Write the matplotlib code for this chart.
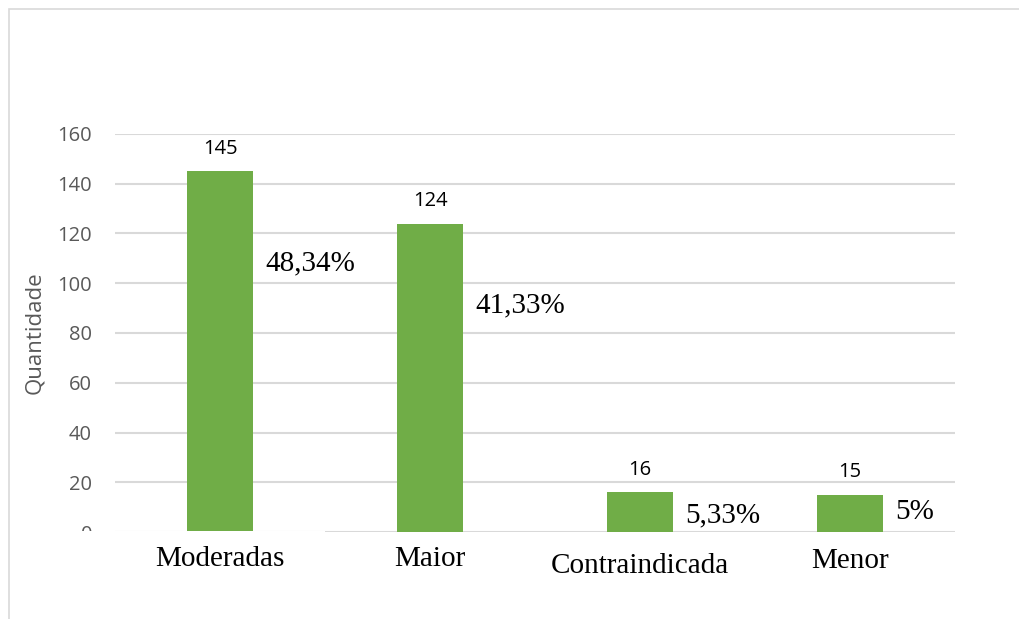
import matplotlib
matplotlib.use("Agg")
import matplotlib.pyplot as plt
from matplotlib.patches import Rectangle
from matplotlib.transforms import ScaledTranslation

categories = ["Moderadas", "Maior", "Contraindicada", "Menor"]
counts = [145, 124, 16, 15]
percent_labels = ["48,34%", "41,33%", "5,33%", "5%"]
yticks = [0, 20, 40, 60, 80, 100, 120, 140, 160]

# where the percentage boxes sit (data units) next to each bar
pct_label_y = [108, 91, 6.8, 8]
# extra drop (px) of each category label below the axis
cat_label_drop = [0, 0, 7, 2]

GREEN = "#70AD47"
GRID = "#D9D9D9"
TICK = "#595959"
sans = ["Open Sans", "DejaVu Sans"]
serif = ["Liberation Serif", "DejaVu Serif"]

fig = plt.figure(figsize=(10.19, 6.19), dpi=100)
W, H = 1019, 619

# outer chart frame (runs off the right and bottom edges)
fig.patches.append(Rectangle((9 / W, -0.05), 1.1, (619 - 9) / H + 0.05,
                             transform=fig.transFigure, fill=False,
                             edgecolor=GRID, linewidth=1.2))

ax = fig.add_axes([115 / W, (H - 532) / H, 840 / W, 398 / H])
x = range(len(categories))
ax.bar(x, counts, width=0.31, color=GREEN, zorder=3)
ax.set_xlim(-0.5, len(categories) - 0.5)
ax.set_ylim(0, 160)
ax.set_yticks(yticks)
ax.set_yticklabels([str(v) for v in yticks], fontfamily=sans, fontsize=14.5, color=TICK)
ax.tick_params(axis="y", length=0, pad=16.5)
ax.yaxis.grid(True, color=GRID, linewidth=1.5, zorder=0)
ax.set_xticks([])
for s in ax.spines.values():
    s.set_visible(False)
ax.set_ylabel("Quantidade", fontfamily=sans, fontsize=16, color=TICK, labelpad=9)

for i, (c, p, py) in enumerate(zip(counts, percent_labels, pct_label_y)):
    ax.annotate(str(c), (i, c), xytext=(0, 9), textcoords="offset points",
                ha="center", va="bottom", fontfamily=sans, fontsize=14.5, color="black")
    ax.annotate(p, (i + 0.155, py), xytext=(9, 0), textcoords="offset points",
                ha="left", va="center", fontfamily=serif, fontsize=21, color="black",
                zorder=4)

# label area below the plot hides the lower half of the zero tick label
ax.add_patch(Rectangle((11 / W, 0), 314 / W, (H - 531) / H,
                       transform=fig.transFigure, facecolor="white",
                       edgecolor="none", zorder=11, clip_on=False))

for i, (name, drop) in enumerate(zip(categories, cat_label_drop)):
    t = ax.text(i, 0, name, ha="center", va="top", fontfamily=serif, fontsize=21,
                color="black", zorder=12,
                transform=ax.get_xaxis_transform())
    t.set_transform(t.get_transform()
                    + ScaledTranslation(0, -(14 + drop) / 100, fig.dpi_scale_trans))

fig.savefig("out.png", dpi=100, facecolor="white")
